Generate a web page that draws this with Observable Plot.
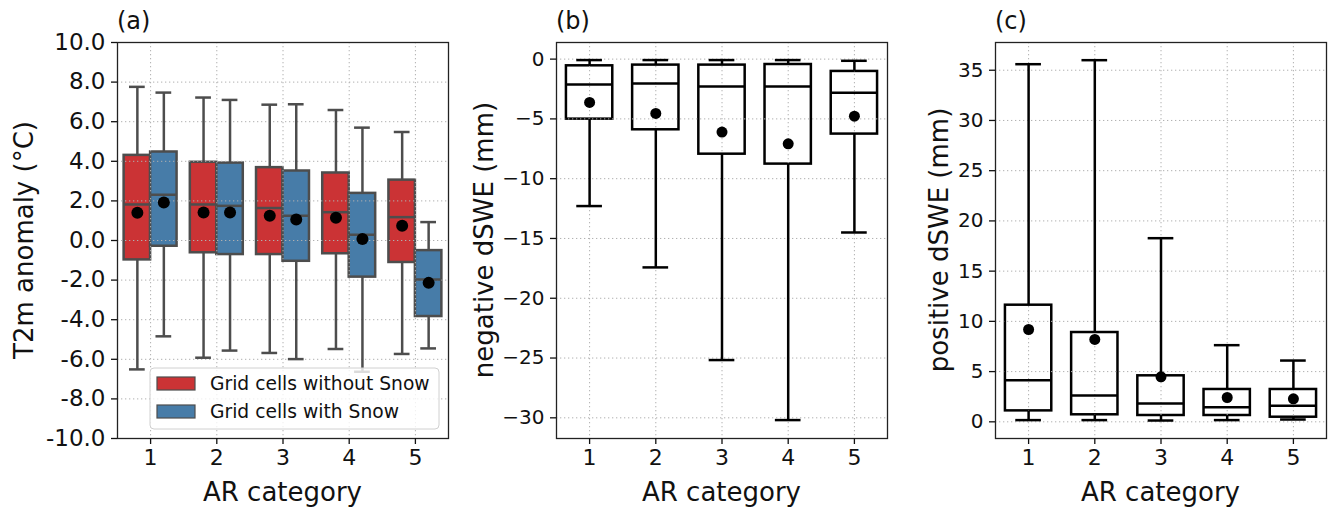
<!DOCTYPE html>
<html>
<head>
<meta charset="utf-8">
<script src="https://cdn.jsdelivr.net/npm/d3@7"></script>
<script src="https://cdn.jsdelivr.net/npm/@observablehq/plot@0.6"></script>
<style>
  html, body { margin: 0; padding: 0; background: #fff; }
  #wrap { position: relative; width: 1330px; height: 509px; overflow: hidden; font-family: "DejaVu Sans", sans-serif; }
  .panel { position: absolute; top: 0; }
</style>
</head>
<body>
<div id="wrap"></div>
<script>
// ---------------- data ----------------
const categories = [1, 2, 3, 4, 5];
const groupNames = ["Grid cells without Snow", "Grid cells with Snow"];
const groupColors = ["#cb3335", "#477ca8"];

// (a) T2m anomaly (°C) — grid cells without snow
const t2mNoSnowHigh = [7.76, 7.22, 6.86, 6.59, 5.48];
const t2mNoSnowQ3   = [4.30, 3.95, 3.68, 3.41, 3.05];
const t2mNoSnowMed  = [1.82, 1.82, 1.64, 1.43, 1.18];
const t2mNoSnowQ1   = [-0.98, -0.62, -0.71, -0.67, -1.11];
const t2mNoSnowLow  = [-6.51, -5.92, -5.68, -5.48, -5.73];
const t2mNoSnowMean = [1.40, 1.42, 1.25, 1.15, 0.74];
// (a) grid cells with snow
const t2mSnowHigh = [7.47, 7.10, 6.88, 5.70, 0.93];
const t2mSnowQ3   = [4.47, 3.91, 3.51, 2.38, -0.51];
const t2mSnowMed  = [2.31, 1.75, 1.25, 0.29, -1.97];
const t2mSnowQ1   = [-0.29, -0.71, -1.05, -1.85, -3.84];
const t2mSnowLow  = [-4.84, -5.56, -5.99, -6.63, -5.45];
const t2mSnowMean = [1.92, 1.42, 1.06, 0.08, -2.14];

// (b) negative dSWE (mm)
const negHigh = [-0.08, -0.08, -0.08, -0.08, -0.14];
const negQ3   = [-0.56, -0.50, -0.50, -0.45, -1.03];
const negMed  = [-2.12, -2.04, -2.29, -2.29, -2.82];
const negQ1   = [-5.02, -5.91, -7.95, -8.78, -6.27];
const negLow  = [-12.29, -17.42, -25.17, -30.19, -14.50];
const negMean = [-3.62, -4.54, -6.10, -7.08, -4.77];

// (c) positive dSWE (mm)
const posHigh = [35.6, 36.0, 18.28, 7.63, 6.10];
const posQ3   = [11.61, 8.89, 4.58, 3.22, 3.22];
const posMed  = [4.15, 2.62, 1.82, 1.46, 1.59];
const posQ1   = [1.09, 0.70, 0.63, 0.63, 0.46];
const posLow  = [0.17, 0.17, 0.13, 0.17, 0.23];
const posMean = [9.19, 8.20, 4.48, 2.42, 2.29];

// tick values
const ticksA = [-10, -8, -6, -4, -2, 0, 2, 4, 6, 8, 10];
const ticksB = [-30, -25, -20, -15, -10, -5, 0];
const ticksC = [0, 5, 10, 15, 20, 25, 30, 35];

// ---------------- helpers ----------------
function makeRows(low, q1, med, q3, high, mean, extra) {
  return categories.map((c, i) => ({cat: c, low: low[i], q1: q1[i], med: med[i], q3: q3[i], high: high[i], mean: mean[i], ...extra}));
}

const FONT = "DejaVu Sans";
const GRID = {stroke: "#b0b0b0", strokeOpacity: 1, strokeWidth: 1, strokeDasharray: "1.3,2.7"};

function panel({rows, left, width, mLeft, mRight, yDomain, yTicks, yFmt, half, capHalf, lineColor, fillFn, dotR, lw}) {
  const cx = d => d.cat + d.off;
  const marks = [
    Plot.rect(rows, {x1: d => cx(d) - half, x2: d => cx(d) + half, y1: "q1", y2: "q3",
      fill: fillFn, stroke: lineColor, strokeWidth: lw, inset: 0}),
    Plot.gridX(categories, GRID),
    Plot.gridY(yTicks, GRID),
    Plot.ruleX(rows, {x: cx, y1: "q3", y2: "high", stroke: lineColor, strokeWidth: lw}),
    Plot.ruleX(rows, {x: cx, y1: "low", y2: "q1", stroke: lineColor, strokeWidth: lw}),
    Plot.ruleY(rows, {y: "high", x1: d => cx(d) - capHalf, x2: d => cx(d) + capHalf, stroke: lineColor, strokeWidth: lw, strokeLinecap: "square"}),
    Plot.ruleY(rows, {y: "low", x1: d => cx(d) - capHalf, x2: d => cx(d) + capHalf, stroke: lineColor, strokeWidth: lw, strokeLinecap: "square"}),
    Plot.ruleY(rows, {y: "med", x1: d => cx(d) - half, x2: d => cx(d) + half, stroke: lineColor, strokeWidth: lw}),
    Plot.dot(rows, {x: cx, y: "mean", r: dotR, fill: "#000", stroke: "none"}),
    Plot.frame({stroke: "#222", strokeWidth: 1.3}),
    Plot.axisX(categories, {tickSize: 6, tickPadding: 5, fontSize: 22, strokeWidth: 1.3, label: null, tickFormat: d => String(d)}),
    Plot.axisY(yTicks, {tickSize: 6, tickPadding: 6, fontSize: yFmt.size, strokeWidth: 1.3, label: null, tickFormat: yFmt.fn})
  ];
  const svg = Plot.plot({
    width, height: 509,
    marginLeft: mLeft, marginRight: mRight, marginTop: 42, marginBottom: 71,
    x: {domain: [0.5, 5.5]},
    y: {domain: yDomain},
    color: {domain: groupNames, range: groupColors},
    style: {fontFamily: FONT, color: "#111", background: "transparent", overflow: "visible"},
    marks
  });
  const div = document.createElement("div");
  div.className = "panel";
  div.style.left = left + "px";
  div.appendChild(svg);
  document.getElementById("wrap").appendChild(div);
  return svg;
}

// ---------------- panel (a) ----------------
const rowsA = [
  ...makeRows(t2mNoSnowLow, t2mNoSnowQ1, t2mNoSnowMed, t2mNoSnowQ3, t2mNoSnowHigh, t2mNoSnowMean, {off: -0.2, group: groupNames[0]}),
  ...makeRows(t2mSnowLow, t2mSnowQ1, t2mSnowMed, t2mSnowQ3, t2mSnowHigh, t2mSnowMean, {off: 0.2, group: groupNames[1]})
];
const svgA = panel({rows: rowsA, left: 0, width: 460, mLeft: 117, mRight: 12,
  yDomain: [-10, 10], yTicks: ticksA, yFmt: {fn: d => d.toFixed(1), size: 23},
  half: 0.2, capHalf: 0.1, lineColor: "#4d4d4d", fillFn: "group", dotR: 6, lw: 2.5});

// ---------------- panel (b) ----------------
const rowsB = makeRows(negLow, negQ1, negMed, negQ3, negHigh, negMean, {off: 0});
const svgB = panel({rows: rowsB, left: 460, width: 440, mLeft: 96, mRight: 13,
  yDomain: [-31.73, 1.39], yTicks: ticksB, yFmt: {fn: d3.format("d"), size: 20},
  half: 0.35, capHalf: 0.175, lineColor: "#000", fillFn: "none", dotR: 5.5, lw: 2.5});

// ---------------- panel (c) ----------------
const rowsC = makeRows(posLow, posQ1, posMed, posQ3, posHigh, posMean, {off: 0});
const svgC = panel({rows: rowsC, left: 900, width: 430, mLeft: 95, mRight: 4,
  yDomain: [-1.66, 37.76], yTicks: ticksC, yFmt: {fn: d3.format("d"), size: 20},
  half: 0.35, capHalf: 0.175, lineColor: "#000", fillFn: "none", dotR: 5.5, lw: 2.5});

// ---------------- texts ----------------
function addTexts(svg, {title, ylabel, ylabelX, frameLeft, frameRight}) {
  const s = d3.select(svg);
  s.append("text").attr("x", frameLeft).attr("y", 29).attr("font-size", 24).attr("text-anchor", "start")
    .attr("font-family", FONT).attr("fill", "#111").text(title);
  s.append("text").attr("x", (frameLeft + frameRight) / 2).attr("y", 501).attr("text-anchor", "middle")
    .attr("font-size", 26).attr("font-family", FONT).attr("fill", "#111").text("AR category");
  s.append("text").attr("transform", `translate(${ylabelX},240) rotate(-90)`).attr("text-anchor", "middle")
    .attr("font-size", 26).attr("font-family", FONT).attr("fill", "#111").text(ylabel);
}
addTexts(svgA, {title: "(a)", ylabel: "T2m anomaly (°C)", ylabelX: 33, frameLeft: 117, frameRight: 448});
addTexts(svgB, {title: "(b)", ylabel: "negative dSWE (mm)", ylabelX: 33, frameLeft: 96, frameRight: 427});
addTexts(svgC, {title: "(c)", ylabel: "positive dSWE (mm)", ylabelX: 48, frameLeft: 95, frameRight: 426});

// ---------------- legend in panel (a) ----------------
const lg = d3.select(svgA).append("g").attr("text-anchor", "start");
lg.append("rect").attr("x", 150).attr("y", 368).attr("width", 289).attr("height", 61).attr("rx", 4)
  .attr("fill", "#fff").attr("fill-opacity", 0.8).attr("stroke", "#d0d0d0").attr("stroke-width", 1);
groupNames.forEach((name, i) => {
  lg.append("rect").attr("x", 157).attr("y", 377 + i * 28).attr("width", 38).attr("height", 13)
    .attr("fill", groupColors[i]).attr("stroke", "#4d4d4d").attr("stroke-width", 1.2);
  lg.append("text").attr("x", 210).attr("y", 390 + i * 28).attr("font-size", 18.7).attr("text-anchor", "start")
    .attr("font-family", FONT).attr("fill", "#111").text(name);
});
</script>
</body>
</html>
